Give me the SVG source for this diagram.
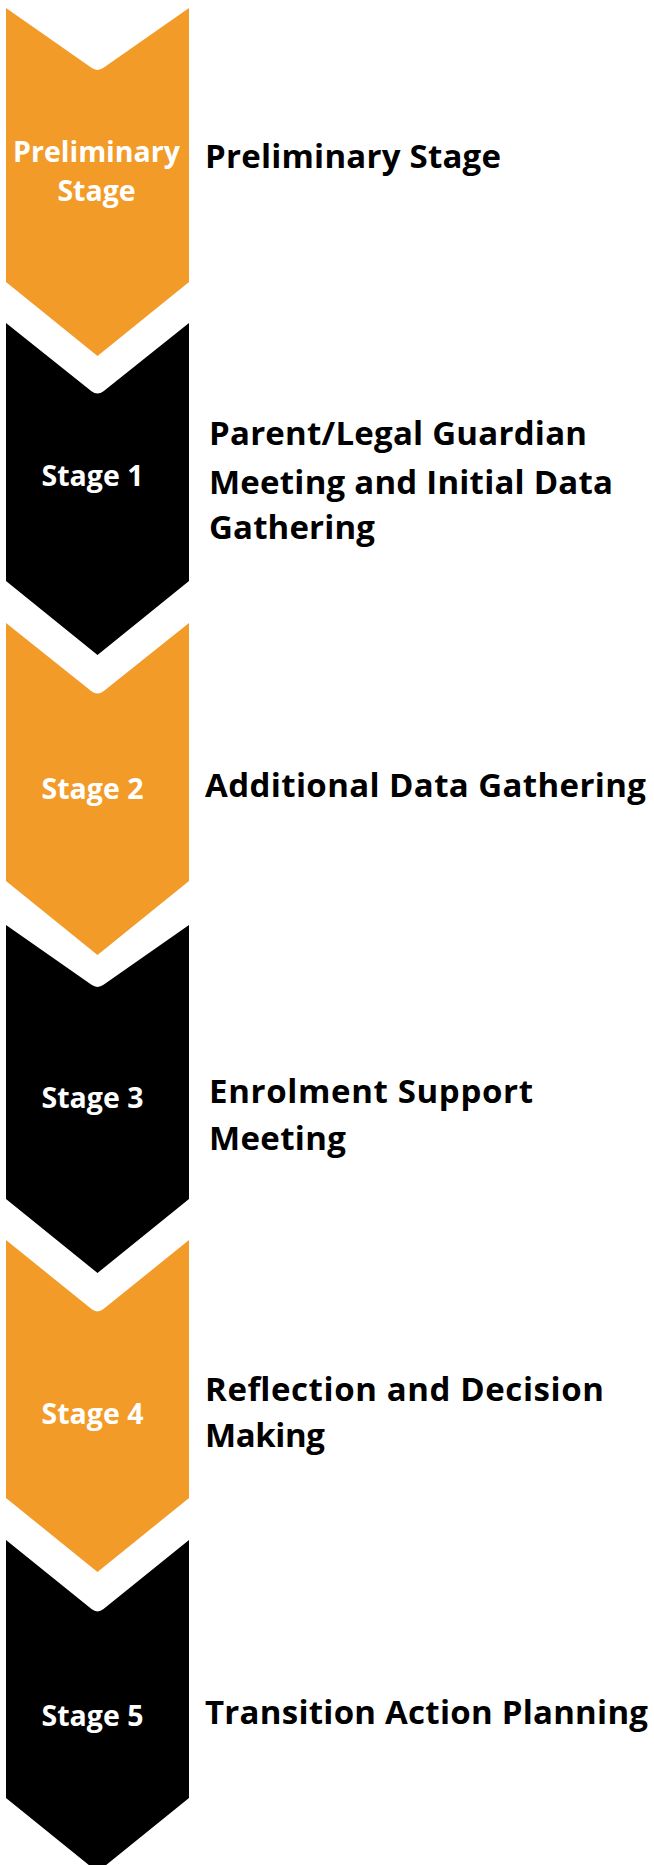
<svg xmlns="http://www.w3.org/2000/svg" width="654" height="1865" viewBox="0 0 654 1865">
<style>
.bg{fill:#ffffff}
.orange{fill:#F39B29}
.black{fill:#000000}
.lbl{font-family:"Open Sans","Noto Sans","Liberation Sans",sans-serif;font-weight:700;font-size:28.5px;fill:#ffffff;text-anchor:middle}
.desc{font-family:"Open Sans","Noto Sans","Liberation Sans",sans-serif;font-weight:700;font-size:33px;fill:#000000}
</style>
<rect class="bg" x="0" y="0" width="654" height="1865"/>
<g id="connectors"></g>
<g id="node-preliminary">
<path class="orange" d="M6 8 L91.5 67.8 Q97.5 72 103.5 67.8 L189 8 L189 282 L97.5 356 L6 282 Z"/>
<text class="lbl" x="96.5" y="162">Preliminary</text>
<text class="lbl" x="96.5" y="201">Stage</text>
<text class="desc" x="205" y="168" textLength="296" lengthAdjust="spacing">Preliminary Stage</text>
</g>
<g id="node-stage1">
<path class="black" d="M6 323 L91.5 391.2 Q97.5 396 103.5 391.2 L189 323 L189 581 L97.5 655 L6 581 Z"/>
<text class="lbl" x="92.5" y="486">Stage 1</text>
<text class="desc" x="209" y="445" textLength="378" lengthAdjust="spacing">Parent/Legal Guardian</text>
<text class="desc" x="209" y="494" textLength="404" lengthAdjust="spacing">Meeting and Initial Data</text>
<text class="desc" x="209" y="539" textLength="166" lengthAdjust="spacing">Gathering</text>
</g>
<g id="node-stage2">
<path class="orange" d="M6 623 L91.5 691.2 Q97.5 696 103.5 691.2 L189 623 L189 881 L97.5 955 L6 881 Z"/>
<text class="lbl" x="92.5" y="799">Stage 2</text>
<text class="desc" x="205" y="797" textLength="441" lengthAdjust="spacing">Additional Data Gathering</text>
</g>
<g id="node-stage3">
<path class="black" d="M6 925 L91.5 984.8 Q97.5 989 103.5 984.8 L189 925 L189 1199 L97.5 1273 L6 1199 Z"/>
<text class="lbl" x="92.5" y="1108">Stage 3</text>
<text class="desc" x="209" y="1103" textLength="324" lengthAdjust="spacing">Enrolment Support</text>
<text class="desc" x="209" y="1150" textLength="137" lengthAdjust="spacing">Meeting</text>
</g>
<g id="node-stage4">
<path class="orange" d="M6 1240 L91.5 1309.1 Q97.5 1314 103.5 1309.1 L189 1240 L189 1498 L97.5 1572 L6 1498 Z"/>
<text class="lbl" x="92.5" y="1424">Stage 4</text>
<text class="desc" x="205" y="1401" textLength="399" lengthAdjust="spacing">Reflection and Decision</text>
<text class="desc" x="205" y="1447" textLength="120" lengthAdjust="spacing">Making</text>
</g>
<g id="node-stage5">
<path class="black" d="M6 1540 L91.5 1609.1 Q97.5 1614 103.5 1609.1 L189 1540 L189 1798 L97.5 1872 L6 1798 Z"/>
<text class="lbl" x="92.5" y="1726">Stage 5</text>
<text class="desc" x="205" y="1724" textLength="443" lengthAdjust="spacing">Transition Action Planning</text>
</g>
</svg>
